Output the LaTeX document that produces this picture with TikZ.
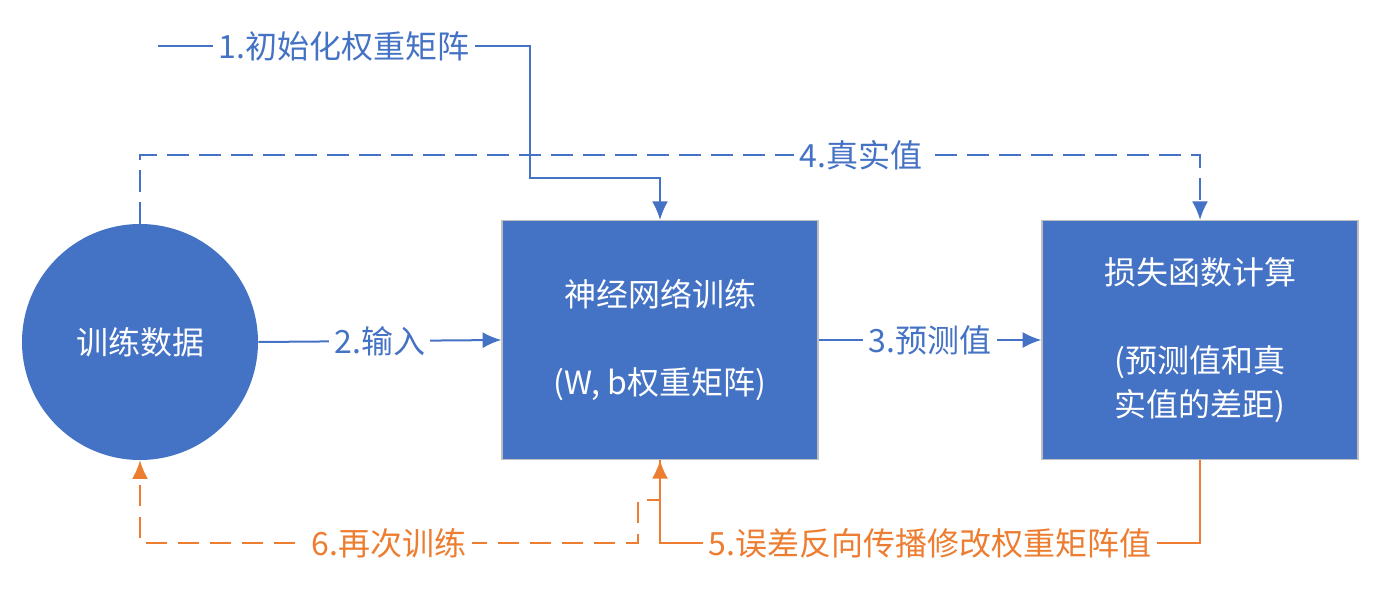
\documentclass[tikz,border=0pt]{standalone}
\usepackage{fontspec}
\setmainfont{Noto Sans CJK SC}
\usetikzlibrary{arrows.meta}

\definecolor{azul}{HTML}{4472C4}
\definecolor{naranja}{HTML}{ED7D31}
\definecolor{gris}{HTML}{BFBFBF}

\begin{document}
\begin{tikzpicture}[x=0.75pt, y=-0.75pt]
  \tikzset{
    circ_node/.style={circle, fill=azul, minimum size=177pt, inner sep=0pt, text=white, font=\fontsize{24}{33}\selectfont},
    box_node/.style={rectangle, fill=azul, draw=gris, line width=1pt, minimum width=237pt, minimum height=179pt, align=center, text=white, font=\fontsize{24}{33}\selectfont},
    lbl/.style={fill=white, inner sep=4pt, font=\fontsize{24}{33}\selectfont},
    blue_line/.style={draw=azul, line width=1.5pt, -{Latex[length=14pt,width=12pt]}},
    orange_line/.style={draw=naranja, line width=1.5pt, -{Latex[length=14pt,width=12pt]}},
    dash_line/.style={dash pattern=on 16pt off 8pt}
  }

  \useasboundingbox (0,0) rectangle (1383,592);

  % Nodos principales
  \node[circ_node] (datos) at (140,342) {训练数据};
  \node[box_node] (red) at (660,340) {神经网络训练\\[33pt](W, b权重矩阵)};
  \node[box_node] (perdida) at (1200,340) {损失函数计算\\[33pt](预测值和真\\实值的差距)};

  % Punto libre de la flecha 1
  \coordinate (ini) at (158,46);

  % Flechas azules
  \draw[blue_line] (ini) -- node[lbl, text=azul] {1.初始化权重矩阵} (530,46) -- (530,178) -| (red.north);
  \draw[blue_line, dash_line] (datos.north) -- (140,155) -| node[lbl, text=azul, pos=0.34] {4.真实值} (perdida.north);
  \draw[blue_line] (datos.east) -- node[lbl, text=azul] {2.输入} (red.west);
  \draw[blue_line] (red.east) -- node[lbl, text=azul] {3.预测值} (perdida.west);

  % Flechas naranjas
  \draw[orange_line, dash_line] (red.south) -- (660,500) -- (638,500) -- (638,543) -- node[lbl, text=naranja] {6.再次训练} (140,543) -- (datos.south);
  \draw[orange_line] (perdida.south) -- (1200,543) -- node[lbl, text=naranja] {5.误差反向传播修改权重矩阵值} (660,543) -- (red.south);
\end{tikzpicture}
\end{document}
